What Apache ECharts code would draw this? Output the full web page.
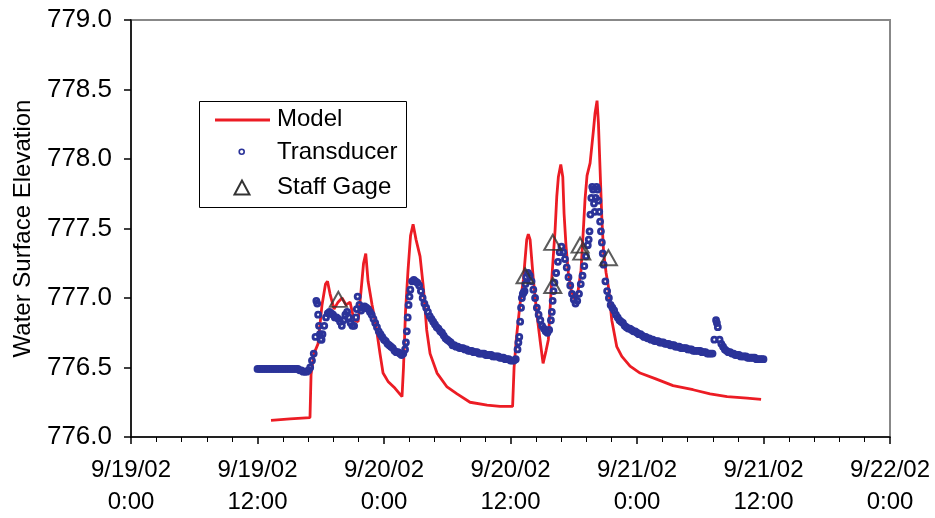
<!DOCTYPE html>
<html>
<head>
<meta charset="utf-8">
<title>Water Surface Elevation</title>
<script src="https://cdn.jsdelivr.net/npm/echarts@6/dist/echarts.min.js"></script>
<style>
  html, body { margin: 0; padding: 0; background: #ffffff; }
  #chart { width: 935px; height: 518px; }
</style>
</head>
<body>
<div id="chart"></div>
<script>
// Time is in hours since 9/19/02 0:00; elevations in feet.
const xTickLabels = ['9/19/02\n0:00', '9/19/02\n12:00', '9/20/02\n0:00', '9/20/02\n12:00',
                     '9/21/02\n0:00', '9/21/02\n12:00', '9/22/02\n0:00'];
const yTicks = [776.0, 776.5, 777.0, 777.5, 778.0, 778.5, 779.0];

// Model output [hour, elevation]
const modelPoints = [
  [13.28, 776.12], [15.09, 776.13], [16.98, 776.14], [17.08, 776.45], [17.36, 776.60],
  [17.74, 776.67], [18.12, 776.95], [18.45, 777.10], [18.64, 777.12], [18.88, 777.03],
  [19.26, 776.92], [19.64, 776.97], [20.02, 777.00], [20.40, 776.95], [20.78, 776.97],
  [21.16, 776.84], [21.54, 776.83], [21.82, 777.05], [22.06, 777.25], [22.27, 777.32],
  [22.49, 777.12], [22.87, 776.95], [23.24, 776.80], [23.62, 776.60], [23.91, 776.46],
  [24.38, 776.40], [25.05, 776.35], [25.71, 776.29], [25.85, 776.50], [26.04, 776.90],
  [26.28, 777.20], [26.52, 777.45], [26.76, 777.53], [27.04, 777.42], [27.42, 777.30],
  [27.73, 777.08], [28.05, 776.77], [28.37, 776.60], [29.03, 776.46], [29.98, 776.36],
  [30.93, 776.31], [32.16, 776.25], [33.78, 776.23], [35.01, 776.22], [36.20, 776.22],
  [36.34, 776.50], [36.57, 776.72], [36.91, 776.96], [37.22, 777.13], [37.54, 777.42],
  [37.69, 777.46], [37.86, 777.42], [38.17, 777.13], [38.49, 776.89], [38.80, 776.70],
  [39.09, 776.53], [39.37, 776.62], [39.59, 776.70], [39.91, 777.13], [40.23, 777.49],
  [40.39, 777.73], [40.54, 777.87], [40.77, 777.96], [40.96, 777.87], [41.08, 777.61],
  [41.27, 777.37], [41.49, 777.18], [41.75, 777.06], [42.08, 776.99], [42.41, 777.05],
  [42.69, 777.20], [42.91, 777.49], [43.07, 777.71], [43.26, 777.88], [43.55, 777.97],
  [43.86, 778.20], [44.02, 778.33], [44.21, 778.42], [44.34, 778.26], [44.50, 777.92],
  [44.66, 777.58], [44.83, 777.33], [45.07, 777.18], [45.29, 777.08], [45.61, 776.84],
  [46.08, 776.65], [46.56, 776.58], [47.34, 776.51], [48.29, 776.46], [49.72, 776.42],
  [51.42, 776.37], [53.32, 776.34], [54.93, 776.31], [56.55, 776.29], [58.44, 776.28],
  [59.77, 776.27]
];

// Transducer, 10-minute readings: [hour, value at :00, :10, :20, :30, :40, :50]
const transducerRows = [
  [12, 776.49, 776.49, 776.49, 776.49, 776.49, 776.49],
  [13, 776.49, 776.49, 776.49, 776.49, 776.49, 776.49],
  [14, 776.49, 776.49, 776.49, 776.49, 776.49, 776.49],
  [15, 776.49, 776.49, 776.49, 776.49, 776.49, 776.49],
  [16, 776.48, 776.48, 776.47, 776.47, 776.47, 776.48],
  [17, 776.50, 776.55, 776.60, 776.72, 776.96, 776.80],
  [18, 776.70, 776.74, 776.80, 776.86, 776.89, 776.90],
  [19, 776.89, 776.88, 776.86, 776.86, 776.85, 776.83],
  [20, 776.80, 776.84, 776.88, 776.90, 776.86, 776.82],
  [21, 776.80, 776.80, 776.86, 777.01, 776.95, 776.91],
  [22, 776.93, 776.94, 776.93, 776.92, 776.90, 776.88],
  [23, 776.85, 776.82, 776.79, 776.76, 776.74, 776.72],
  [24, 776.70, 776.69, 776.67, 776.66, 776.65, 776.64],
  [25, 776.62, 776.61, 776.61, 776.60, 776.59, 776.60],
  [26, 776.63, 776.76, 776.95, 777.06, 777.12, 777.13],
  [27, 777.12, 777.11, 777.09, 777.05, 777.00, 776.96],
  [28, 776.93, 776.90, 776.87, 776.85, 776.83, 776.81],
  [29, 776.79, 776.78, 776.76, 776.75, 776.73, 776.71],
  [30, 776.70, 776.69, 776.68, 776.66, 776.66, 776.65],
  [31, 776.65, 776.64, 776.64, 776.64, 776.63, 776.63],
  [32, 776.62, 776.62, 776.62, 776.61, 776.61, 776.61],
  [33, 776.60, 776.60, 776.60, 776.60, 776.59, 776.59],
  [34, 776.59, 776.59, 776.58, 776.58, 776.58, 776.58],
  [35, 776.57, 776.57, 776.57, 776.56, 776.56, 776.56],
  [36, 776.55, 776.55, 776.55, 776.56, 776.63, 776.72],
  [37, 776.93, 777.03, 777.05, 777.15, 777.18, 777.16],
  [38, 777.12, 777.06, 777.00, 776.93, 776.88, 776.84],
  [39, 776.80, 776.78, 776.76, 776.75, 776.77, 776.84],
  [40, 776.98, 777.11, 777.18, 777.26, 777.33, 777.37],
  [41, 777.33, 777.28, 777.22, 777.15, 777.09, 777.03],
  [42, 776.99, 776.96, 776.98, 777.03, 777.10, 777.16],
  [43, 777.23, 777.30, 777.38, 777.48, 777.72, 777.78],
  [44, 777.62, 777.80, 777.70, 777.55, 777.40, 777.24],
  [45, 777.12, 777.05, 777.00, 776.95, 776.93, 776.91],
  [46, 776.88, 776.86, 776.84, 776.83, 776.82, 776.80],
  [47, 776.79, 776.78, 776.78, 776.77, 776.76, 776.76],
  [48, 776.75, 776.74, 776.74, 776.73, 776.72, 776.72],
  [49, 776.71, 776.71, 776.70, 776.70, 776.69, 776.69],
  [50, 776.69, 776.68, 776.68, 776.68, 776.67, 776.67],
  [51, 776.67, 776.66, 776.66, 776.66, 776.65, 776.65],
  [52, 776.65, 776.64, 776.64, 776.64, 776.64, 776.63],
  [53, 776.63, 776.63, 776.62, 776.62, 776.62, 776.62],
  [54, 776.62, 776.61, 776.61, 776.61, 776.60, 776.60],
  [55, 776.60, 776.60, 776.70, 776.84, 776.79, 776.70],
  [56, 776.67, 776.65, 776.63, 776.62, 776.61, 776.61],
  [57, 776.60, 776.60, 776.59, 776.59, 776.59, 776.58],
  [58, 776.58, 776.58, 776.58, 776.57, 776.57, 776.57],
  [59, 776.57, 776.57, 776.56, 776.56, 776.56, 776.56],
  [60, 776.56]
];

// Transducer, extra 5-minute readings during rapid rises [hour, elevation]
const transducerExtra = [
  [17.58, 776.98], [17.75, 776.88], [17.92, 776.74], [18.08, 776.70], [21.42, 776.92],
  [26.08, 776.68], [26.25, 776.86], [26.42, 777.01], [36.75, 776.68], [36.92, 776.83],
  [37.08, 777.00], [37.25, 777.04], [37.42, 777.10], [39.92, 776.90], [40.08, 777.05],
  [43.42, 777.42], [43.58, 777.60], [43.75, 777.80], [43.92, 777.68], [44.08, 777.72],
  [44.25, 777.78], [44.42, 777.62], [44.58, 777.48], [44.75, 777.32], [55.58, 776.82]
];

// Staff gage readings [hour, elevation]
const staffGagePoints = [
  [19.67, 776.99], [37.38, 777.16], [40.01, 777.40], [40.01, 777.09],
  [42.60, 777.38], [42.76, 777.33], [45.29, 777.29]
];

// Expand the hourly rows into [hour, elevation] pairs
const transducerPoints = [];
transducerRows.forEach(row => {
  const hour = row[0];
  row.slice(1).forEach((v, i) => transducerPoints.push([hour + i / 6, v]));
});
transducerExtra.forEach(p => transducerPoints.push(p));
transducerPoints.sort((a, b) => a[0] - b[0]);

const FONT = "'Liberation Sans', Arial, Helvetica, sans-serif";
const RED = '#EC1C24';
const BLUE = '#2B3399';
const GAGE = '#333333';

const chart = echarts.init(document.getElementById('chart'), null, { renderer: 'canvas' });

chart.setOption({
  animation: false,
  backgroundColor: '#ffffff',
  grid: {
    left: 131, right: 45, top: 20, bottom: 81,
    containLabel: false,
    outerBoundsMode: 'none',
    show: true,
    borderColor: '#888888',
    borderWidth: 2,
    backgroundColor: 'transparent'
  },
  xAxis: {
    type: 'value',
    min: 0, max: 72, interval: 12,
    axisLine: { show: true, onZero: false, lineStyle: { color: '#000', width: 1.5 } },
    axisTick: { show: true, inside: false, length: 7, lineStyle: { color: '#000', width: 1.5 } },
    minorTick: { show: true, splitNumber: 5, length: 5, lineStyle: { color: '#000', width: 1 } },
    splitLine: { show: false },
    minorSplitLine: { show: false },
    axisLabel: {
      show: true,
      margin: 17,
      color: '#000',
      fontFamily: FONT,
      fontSize: 24,
      lineHeight: 32,
      showMinLabel: true,
      showMaxLabel: true,
      hideOverlap: false,
      formatter: v => xTickLabels[Math.round(v / 12)] || ''
    }
  },
  yAxis: {
    type: 'value',
    min: 776, max: 779, interval: 0.5,
    name: 'Water Surface Elevation',
    nameLocation: 'middle',
    nameRotate: 90,
    nameGap: 96,
    nameTextStyle: { color: '#000', fontFamily: FONT, fontSize: 24 },
    axisLine: { show: true, onZero: false, lineStyle: { color: '#000', width: 1.5 } },
    axisTick: { show: true, inside: false, length: 7, lineStyle: { color: '#000', width: 1.5 } },
    splitLine: { show: false },
    axisLabel: {
      show: true,
      margin: 19,
      color: '#000',
      fontFamily: FONT,
      fontSize: 26,
      showMinLabel: true,
      showMaxLabel: true,
      formatter: v => {
        const t = yTicks.find(y => Math.abs(y - v) < 1e-6);
        return t === undefined ? '' : t.toFixed(1);
      }
    }
  },
  series: [
    {
      name: 'Model',
      type: 'line',
      data: modelPoints,
      showSymbol: false,
      symbol: 'none',
      smooth: false,
      lineStyle: { color: RED, width: 2.8 },
      z: 2
    },
    {
      name: 'Transducer',
      type: 'scatter',
      data: transducerPoints,
      symbol: 'circle',
      symbolSize: 5,
      large: false,
      progressive: 0,
      itemStyle: { color: 'transparent', borderColor: BLUE, borderWidth: 2.8, opacity: 1 },
      z: 3
    },
    {
      name: 'Staff Gage',
      type: 'scatter',
      data: staffGagePoints,
      symbol: 'triangle',
      symbolSize: [17, 15],
      itemStyle: { color: 'transparent', borderColor: GAGE, borderWidth: 2 },
      z: 4
    }
  ],
  // Legend box
  graphic: [
    { type: 'rect', shape: { x: 199.5, y: 101.5, width: 207, height: 106 },
      style: { fill: '#fff', stroke: '#000', lineWidth: 1 }, z: 10 },
    { type: 'line', shape: { x1: 215, y1: 120, x2: 270, y2: 120 },
      style: { stroke: RED, lineWidth: 3 }, z: 11 },
    { type: 'text', x: 277, y: 119, z: 11,
      style: { text: 'Model', fill: '#000', font: '24px ' + FONT, verticalAlign: 'middle' } },
    { type: 'circle', shape: { cx: 241.7, cy: 151.7, r: 2.5 },
      style: { fill: 'transparent', stroke: BLUE, lineWidth: 1.6 }, z: 11 },
    { type: 'text', x: 277, y: 152, z: 11,
      style: { text: 'Transducer', fill: '#000', font: '24px ' + FONT, verticalAlign: 'middle' } },
    { type: 'polygon', shape: { points: [[242, 180.5], [234.5, 194.5], [249.5, 194.5]] },
      style: { fill: 'transparent', stroke: GAGE, lineWidth: 2 }, z: 11 },
    { type: 'text', x: 277, y: 187, z: 11,
      style: { text: 'Staff Gage', fill: '#000', font: '24px ' + FONT, verticalAlign: 'middle' } }
  ]
});
</script>
</body>
</html>
